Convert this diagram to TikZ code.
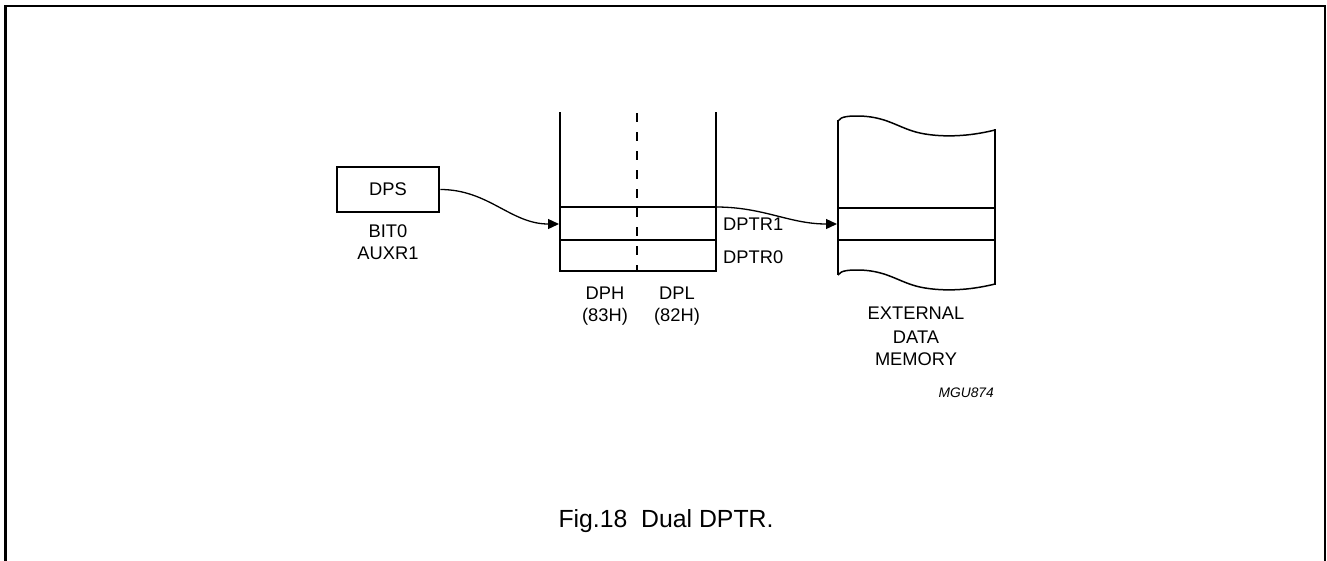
\documentclass[tikz,border=0pt]{standalone}
\usepackage{fontspec}
\setmainfont{Liberation Sans}
\usetikzlibrary{arrows.meta}

\begin{document}
\begin{tikzpicture}[x=1pt,y=-1pt,
  lbl/.style={font=\fontsize{18.3}{22}\selectfont,inner sep=0},
  thickline/.style={line width=2.6pt},
  thinline/.style={line width=1.3pt},
  conn/.style={line width=1.3pt,-{Triangle[length=11pt,width=10pt]}}]

\useasboundingbox (0,0) rectangle (1327,560);

% frame
\draw [line width=2.5pt] (5.5,570) -- (5.5,6) -- (1325,6) -- (1325,570);

% DPS bit
\node [draw,thickline,lbl,minimum width=102pt,minimum height=45pt] (dps) at (388,189.5) {DPS};
\node [lbl,anchor=base] (bit) at (388,237.5) {BIT0};
\node [lbl,anchor=base] (auxr) at (388,259.5) {AUXR1};

% data pointer registers
\draw [thickline] (560,112) -- (560,271) -- (716,271) -- (716,112);
\draw [line width=2.3pt,dash pattern=on 8.5pt off 10.5pt] (637,113) -- (637,271);
\draw [thinline] (560,207) -- (716,207);
\draw [thinline] (560,240) -- (716,240);

\coordinate (regin) at (559,224);
\coordinate (regout) at (716,207);

\node [lbl,anchor=base] (dph) at (605,299.5) {DPH};
\node [lbl,anchor=base] (dphaddr) at (605,321.5) {(83H)};
\node [lbl,anchor=base] (dpl) at (677,299.5) {DPL};
\node [lbl,anchor=base] (dpladdr) at (677,321.5) {(82H)};

\node [lbl,anchor=base west] (dptra) at (723,230.5) {DPTR1};
\node [lbl,anchor=base west] (dptrb) at (723,263.5) {DPTR0};

% external data memory
\draw [line width=1.5pt] (838,121) .. controls (841,116) and (850,116) .. (860,116)
  .. controls (890,117) and (900,130) .. (925,134) .. controls (950,138) and (975,135) .. (995,130);
\draw [line width=1.5pt] (838,275) .. controls (841,270) and (850,270) .. (860,270)
  .. controls (890,271) and (900,284) .. (925,288) .. controls (950,292) and (975,289) .. (995,284);
\draw [line width=2.2pt] (838,120) -- (838,275);
\draw [line width=2.2pt] (995,129) -- (995,285);
\draw [thinline] (838,208) -- (995,208);
\draw [thinline] (838,240) -- (995,240);

\coordinate (memin) at (837,224);

\node [lbl,anchor=base] (ext) at (916,319.5) {EXTERNAL};
\node [lbl,anchor=base] (data) at (916,343.5) {DATA};
\node [lbl,anchor=base] (mem) at (916,365.5) {MEMORY};
\node [inner sep=0,anchor=base east,font=\fontsize{13.8}{16}\selectfont\itshape] (code) at (994,397) {MGU874};

% connectors
\draw [conn] (dps.east) to[out=0,in=180] (regin);
\draw [conn] (regout) to[out=0,in=180] (memin);

\node [inner sep=0,anchor=base,font=\fontsize{24.8}{30}\selectfont] (caption) at (666,527) {Fig.18\ \ Dual DPTR.};

\end{tikzpicture}
\end{document}
